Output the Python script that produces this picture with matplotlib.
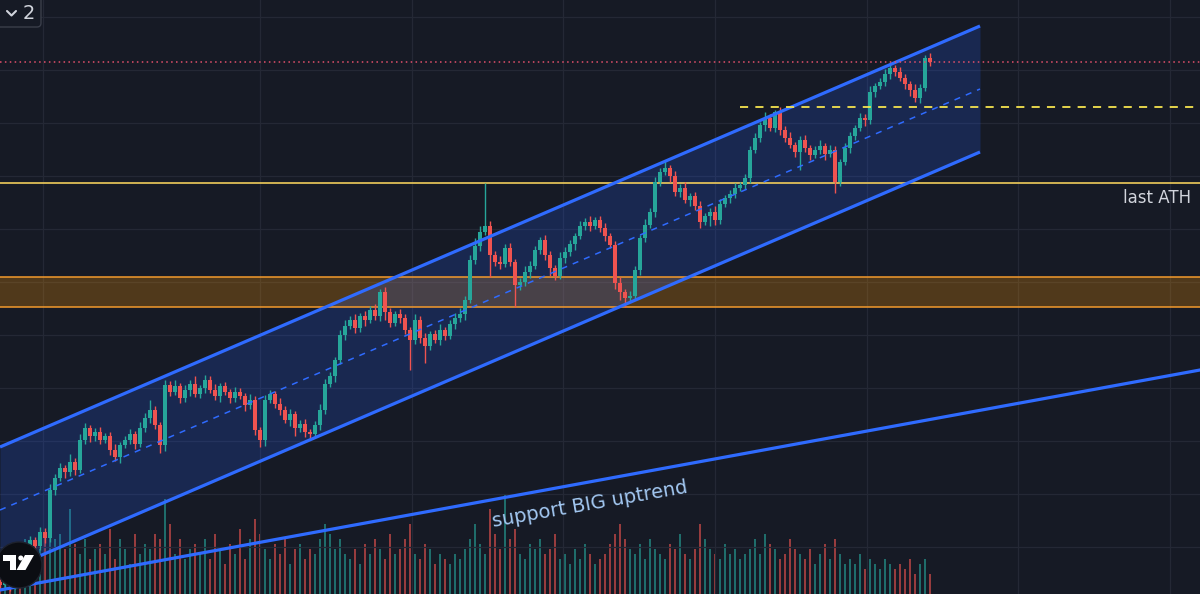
import numpy as np
import matplotlib.pyplot as plt
from matplotlib.patches import Ellipse, Polygon, FancyBboxPatch, Rectangle

# closes per bar (price units), open = previous close
close = [15, 20, 14, 22, 18, 40, 60, 54, 68, 62,
         110, 122, 132, 128, 138, 130, 160, 172, 164, 168,
         160, 164, 150, 143, 155, 160, 166, 156, 172, 182,
         190, 175, 155, 215, 208, 214, 202, 210, 216, 206,
         212, 220, 210, 204, 214, 208, 202, 208, 204, 195,
         200, 170, 160, 200, 206, 196, 190, 180, 186, 172,
         176, 168, 166, 175, 190, 216, 224, 240, 265, 274,
         280, 272, 284, 280, 290, 284, 308, 288, 277, 286,
         282, 270, 260, 280, 262, 254, 266, 260, 270, 264,
         276, 282, 286, 300, 340, 354, 368, 374, 345, 338,
         336, 352, 338, 315, 318, 328, 334, 350, 360, 345,
         332, 324, 342, 348, 356, 364, 374, 378, 374, 380,
         372, 364, 355, 317, 308, 302, 304, 330, 362, 375,
         388, 418, 428, 432, 424, 408, 412, 400, 404, 394,
         378, 384, 388, 380, 396, 402, 406, 412, 415, 422,
         450, 462, 475, 482, 472, 488, 470, 462, 455, 448,
         460, 452, 445, 450, 454, 446, 450, 418, 438, 452,
         464, 472, 482, 480, 508, 514, 518, 526, 532, 528,
         522, 516, 510, 502, 512, 542, 538]
first_open = 18

wick_up = [3, 4, 2, 5, 3, 6, 4, 3, 5, 4,
           6, 4, 5, 3, 8, 4, 6, 5, 3, 4,
           5, 3, 4, 6, 3, 4, 5, 3, 6, 5,
           10, 4, 3, 5, 4, 6, 3, 5, 4, 8,
           3, 5, 4, 6, 3, 4, 3, 5, 4, 3,
           6, 4, 3, 5, 4, 3, 6, 4, 5, 3,
           4, 5, 3, 4, 6, 5, 4, 3, 5, 6,
           4, 6, 3, 5, 4, 6, 3, 5, 4, 3,
           5, 4, 3, 6, 4, 5, 3, 4, 6, 3,
           4, 5, 6, 4, 5, 8, 6, 43, 5, 4,
           6, 4, 5, 3, 4, 6, 5, 4, 3, 5,
           4, 3, 6, 5, 4, 3, 5, 4, 6, 3,
           4, 5, 3, 4, 6, 3, 5, 4, 3, 6,
           4, 5, 4, 8, 3, 5, 4, 6, 3, 4,
           5, 3, 4, 6, 5, 3, 4, 5, 3, 4,
           4, 5, 3, 6, 4, 2, 5, 4, 6, 3,
           4, 5, 3, 4, 6, 3, 5, 4, 3, 5,
           4, 3, 5, 4, 6, 3, 4, 5, 4, 3,
           5, 4, 3, 6, 4, 3, 5]
wick_dn = [4, 3, 5, 3, 4, 5, 3, 6, 4, 5,
           4, 5, 3, 6, 4, 5, 3, 4, 6, 5,
           4, 3, 5, 4, 6, 3, 4, 5, 3, 4,
           5, 4, 8, 6, 4, 3, 5, 4, 6, 3,
           4, 5, 3, 4, 6, 3, 5, 4, 3, 6,
           4, 5, 7, 6, 3, 4, 5, 3, 6, 8,
           4, 5, 4, 3, 5, 4, 3, 6, 4, 5,
           3, 5, 4, 6, 3, 4, 5, 8, 4, 3,
           5, 4, 30, 4, 5, 17, 4, 3, 5, 4,
           3, 5, 4, 6, 3, 4, 5, 3, 22, 4,
           5, 3, 4, 22, 5, 4, 6, 3, 4, 5,
           8, 4, 3, 5, 4, 6, 3, 4, 5, 3,
           4, 5, 3, 6, 8, 9, 4, 3, 5, 4,
           3, 5, 4, 3, 6, 4, 5, 3, 6, 4,
           6, 3, 10, 5, 4, 3, 5, 4, 3, 4,
           5, 3, 4, 6, 3, 4, 5, 4, 3, 5,
           18, 4, 5, 3, 4, 6, 3, 11, 4, 3,
           5, 4, 3, 6, 4, 5, 3, 4, 5, 4,
           3, 5, 6, 4, 5, 3, 4]

volume = [30, 40, 25, 35, 45, 55, 40, 50, 45, 60,
          70, 55, 60, 45, 85, 50, 40, 55, 35, 45,
          50, 40, 65, 35, 55, 45, 30, 60, 40, 50,
          45, 60, 55, 95, 70, 40, 55, 35, 45, 50,
          40, 55, 35, 60, 45, 30, 50, 40, 65, 35,
          55, 75, 60, 45, 35, 50, 40, 55, 30, 45,
          50, 35, 45, 40, 55, 70, 60, 45, 55, 40,
          35, 45, 30, 50, 40, 55, 45, 35, 60, 40,
          45, 55, 70, 40, 35, 50, 45, 30, 40, 35,
          30, 40, 35, 45, 55, 70, 50, 40, 85, 60,
          45, 100, 55, 65, 40, 35, 50, 45, 55, 40,
          45, 60, 35, 40, 30, 45, 35, 50, 40, 30,
          35, 40, 50, 60, 70, 55, 45, 40, 50, 35,
          55, 45, 40, 35, 50, 45, 60, 40, 35, 45,
          70, 55, 45, 40, 35, 50, 40, 45, 35, 40,
          45, 55, 40, 60, 50, 45, 35, 40, 55, 45,
          40, 35, 45, 30, 40, 50, 35, 55, 40, 30,
          35, 30, 40, 25, 35, 30, 25, 35, 30, 25,
          30, 25, 35, 20, 30, 35, 20]

# drawings
chan_x = [0, 196]
chan_upper = [153, 574]
chan_lower = [27, 448]
sup_x = [0, 240]
sup_y = [10, 230]
zone = [293, 323]
ath = 417
res_x = [148, 240]
res_y = 493
last_price = 538

bg = "#161a25"
up_c = "#26a69a"
dn_c = "#ef5350"
blue = "#2f6bff"

close = np.array(close, dtype=float)
opn = np.concatenate([[first_open], close[:-1]])
idx = np.arange(len(close))
hi = np.maximum(opn, close) + np.array(wick_up)
lo = np.minimum(opn, close) - np.array(wick_dn)
is_up = close >= opn
cols = np.where(is_up, up_c, dn_c)

fig = plt.figure(figsize=(12, 5.94), dpi=100, facecolor=bg)

# volume pane (bottom layer)
axv = fig.add_axes([0, 0, 1, 1], facecolor=bg)
axv.bar(idx, volume, width=0.55, color=cols, alpha=0.6)
axv.set_xlim(0, 240)
axv.set_ylim(0, 594)
axv.axis("off")

# price pane
ax = fig.add_axes([0, 0, 1, 1], facecolor="none")
ax.set_xlim(0, 240)
ax.set_ylim(6, 600)
ax.set_xticks([8.6, 52, 82.4, 112.6, 143, 173.4, 203.6, 234])
ax.set_yticks([583, 530, 477, 424, 371, 318, 265, 212, 159, 106, 53])
ax.grid(True, color="#242835", lw=0.9)
ax.set_axisbelow(True)
ax.tick_params(length=0, labelbottom=False, labelleft=False)
for s in ax.spines.values():
    s.set_visible(False)

# orange zone then channel fill
ax.axhspan(zone[0], zone[1], color="#ff9800", alpha=0.25, lw=0, zorder=1)
ax.fill_between(chan_x, chan_lower, chan_upper, color="#2962ff", alpha=0.2, lw=0, zorder=1.5)
for z in zone:
    ax.axhline(z, color="#f39a2c", lw=1.1, zorder=2)
ax.axhline(ath, color="#f0cc5a", lw=1.2, zorder=2)

# candles
ax.vlines(idx, lo, hi, colors=cols, lw=1.0, zorder=3)
body = np.maximum(np.abs(close - opn), 1)
ax.bar(idx, body, bottom=np.minimum(opn, close), width=0.7, color=cols, zorder=3.5)

# channel lines
mid = [(a + b) / 2 for a, b in zip(chan_lower, chan_upper)]
ax.plot(chan_x, chan_upper, color=blue, lw=2.3, zorder=4, solid_capstyle="butt")
ax.plot(chan_x, chan_lower, color=blue, lw=2.3, zorder=4, solid_capstyle="butt")
ax.plot(chan_x, mid, color=blue, lw=1.1, ls=(0, (4, 4)), zorder=4)
ax.plot(sup_x, sup_y, color=blue, lw=2.3, zorder=4)

ax.plot(res_x, [res_y, res_y], color="#f5e34e", lw=1.3, ls=(0, (4.5, 4)), zorder=4)
ax.axhline(last_price, color="#e2506b", lw=1.1, ls=(0, (1, 2.2)), zorder=4)

ax.text(224.6, 397, "last ATH", color="#d1d4dc", fontsize=12, ha="left", va="baseline", zorder=5)
ax.text(98.6, 73, "support BIG uptrend", color="#a3c8f2", fontsize=14,
        rotation=10, rotation_mode="anchor", ha="left", va="baseline", zorder=5)

# overlay: legend toggle box and logo (pixel coords)
ov = fig.add_axes([0, 0, 1, 1], facecolor="none")
ov.set_xlim(0, 1200)
ov.set_ylim(594, 0)
ov.axis("off")
ov.add_patch(FancyBboxPatch((-10, -10), 51, 37, boxstyle="round,pad=0,rounding_size=4",
                            fc=bg, ec="#3a3e4a", lw=1.0))
ov.plot([7, 11.5, 16], [11, 15.5, 11], color="#d1d4dc", lw=1.5, solid_capstyle="round")
ov.text(29, 13.5, "2", color="#d1d4dc", fontsize=14, ha="center", va="center")

ov.add_patch(Ellipse((19, 565), 46, 46, fc="#0b0d12", ec="#1e222d", lw=1))
ov.add_patch(Rectangle((3, 555), 13, 5.5, fc="white", ec="none"))
ov.add_patch(Rectangle((10, 555), 6, 15, fc="white", ec="none"))
ov.add_patch(Ellipse((20.8, 558), 5, 5, fc="white", ec="none"))
ov.add_patch(Polygon([(25, 555), (34, 555), (25.5, 570), (16.5, 570)], closed=True, fc="white", ec="none"))

fig.savefig("out.png", dpi=100, facecolor=bg)
